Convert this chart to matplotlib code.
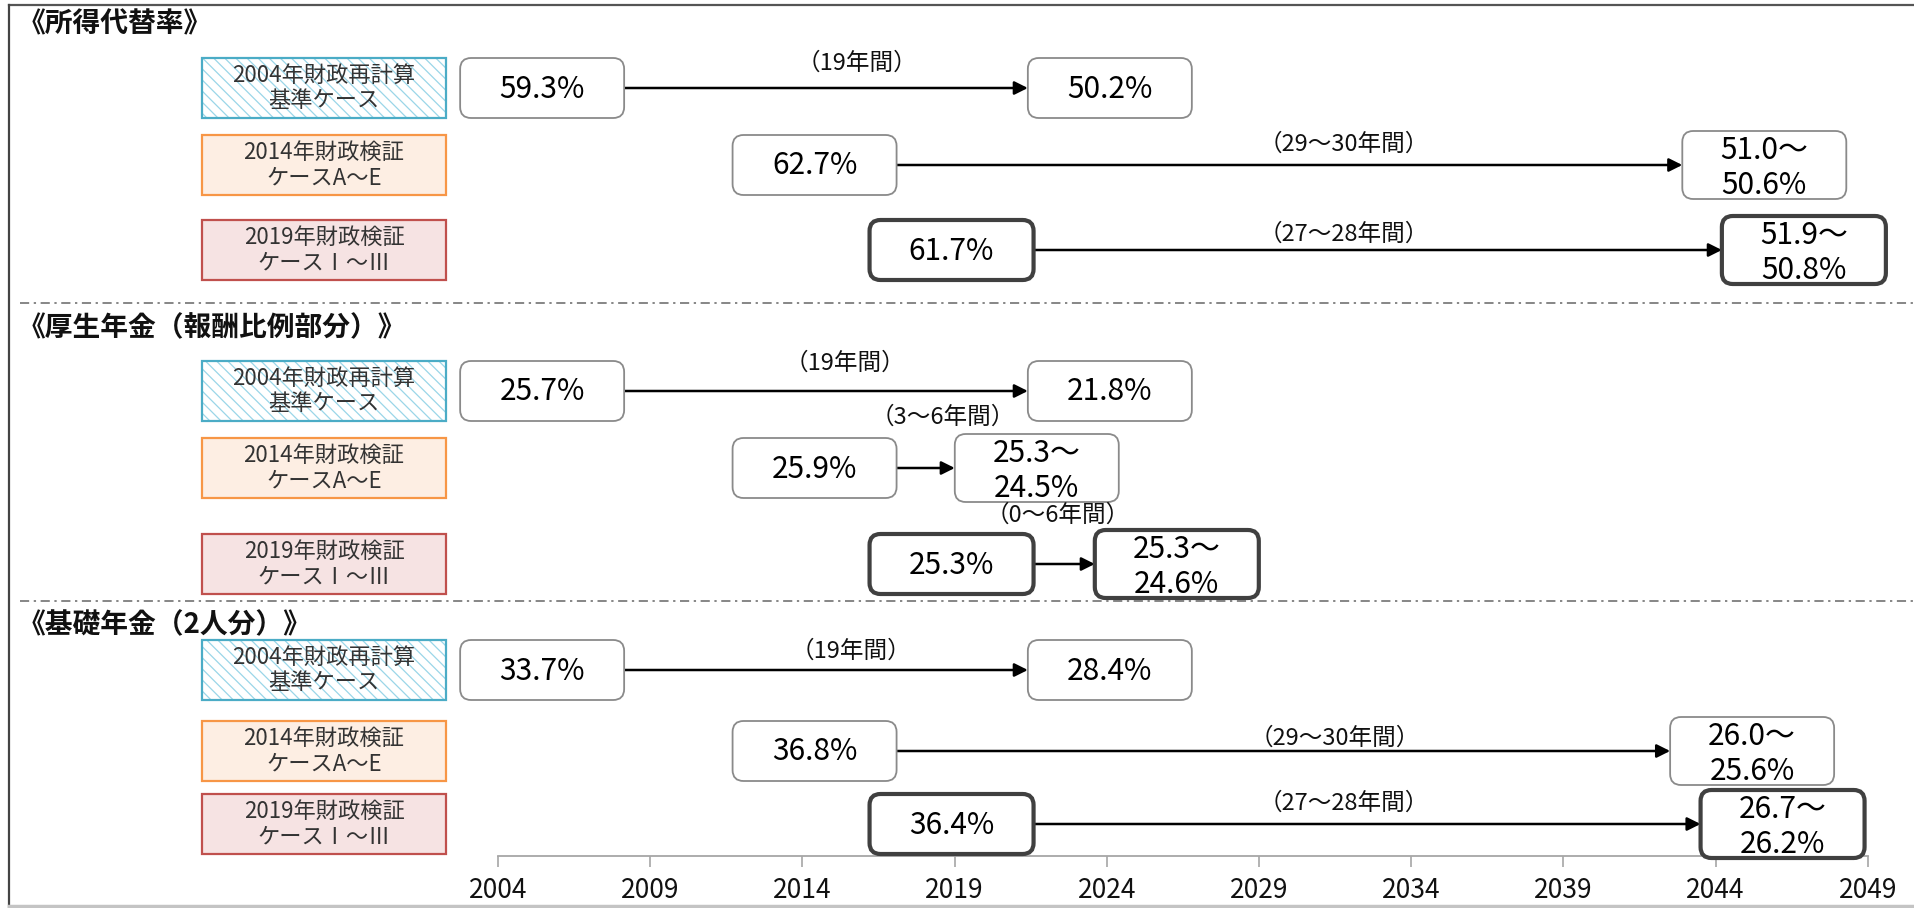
import matplotlib
matplotlib.use("Agg")
import matplotlib.pyplot as plt
from matplotlib.patches import FancyBboxPatch, Rectangle

plt.rcParams['font.family'] = ['Noto Sans CJK JP', 'DejaVu Sans']
plt.rcParams['hatch.linewidth'] = 0.9

# ---- data ----
section_titles = ['《所得代替率》', '《厚生年金（報酬比例部分）》', '《基礎年金（2人分）》']
case_labels = ['2004年財政再計算\n基準ケース', '2014年財政検証\nケースA～E', '2019年財政検証\nケースⅠ～Ⅲ']

# centre year of the starting box for each case
start_year = [2005.45, 2014.4, 2018.9]

ratio_start = ['59.3%', '62.7%', '61.7%']
ratio_end = ['50.2%', '51.0～\n50.6%', '51.9～\n50.8%']
ratio_period = ['（19年間）', '（29～30年間）', '（27～28年間）']
ratio_end_year = [2024.1, 2045.6, 2046.9]
ratio_period_x = [2015.8, 2031.8, 2031.8]

kosei_start = ['25.7%', '25.9%', '25.3%']
kosei_end = ['21.8%', '25.3～\n24.5%', '25.3～\n24.6%']
kosei_period = ['（19年間）', '（3～6年間）', '（0～6年間）']
kosei_end_year = [2024.1, 2021.7, 2026.3]
kosei_period_x = [2015.4, 2018.6, 2022.4]

kiso_start = ['33.7%', '36.8%', '36.4%']
kiso_end = ['28.4%', '26.0～\n25.6%', '26.7～\n26.2%']
kiso_period = ['（19年間）', '（29～30年間）', '（27～28年間）']
kiso_end_year = [2024.1, 2045.2, 2046.2]
kiso_period_x = [2015.6, 2031.5, 2031.8]

year_ticks = list(range(2004, 2050, 5))

sections = [
    (ratio_start, ratio_end, ratio_period, ratio_end_year, ratio_period_x),
    (kosei_start, kosei_end, kosei_period, kosei_end_year, kosei_period_x),
    (kiso_start, kiso_end, kiso_period, kiso_end_year, kiso_period_x),
]

# ---- layout (pixels of the 1914x908 canvas) ----
PX0, PPY = 498.0, 30.44   # pixel of 2004, pixels per year


def px2yr(p):
    return 2004 + (p - PX0) / PPY


TITLE_Y = [24, 328, 625]
ROW_Y = [[88, 165, 250], [391, 468, 564], [670, 751, 824]]
LABEL_DY = [[25, 21, 16], [28, 51, 49], [19, 13, 21]]
SEP_Y = [303, 601]
AXIS_Y = 856
BOX_W = 164 / PPY

label_styles = [
    dict(face='white', hatch='\\\\\\', hatchcol='#9ad6e8', edge='#4bacc6'),
    dict(face='#fdeee3', hatch=None, hatchcol=None, edge='#f79646'),
    dict(face='#f6e3e3', hatch=None, hatchcol=None, edge='#c0504d'),
]

fig = plt.figure(figsize=(19.14, 9.08), dpi=100)
ax = fig.add_axes([0, 0, 1, 1])
ax.set_xlim(px2yr(0), px2yr(1914))
ax.set_ylim(908, 0)
ax.patch.set_visible(False)


def value_box(xc, yc, text, thick):
    two = '\n' in text
    h = 68 if two else 60
    box = FancyBboxPatch((xc - BOX_W / 2, yc - h / 2), BOX_W, h,
                         boxstyle='round,pad=0,rounding_size=0.36',
                         mutation_aspect=PPY, facecolor='white',
                         edgecolor='#404040' if thick else '#8a8a8a',
                         linewidth=3.0 if thick else 1.3, zorder=3)
    ax.add_patch(box)
    ax.text(xc, yc + (3 if two else 1), text, ha='center', va='center',
            fontsize=21.5, linespacing=1.18, color='#000000', zorder=4)


for s, (starts, ends, periods, end_x, period_x) in enumerate(sections):
    ax.text(px2yr(18), TITLE_Y[s], section_titles[s], fontsize=20,
            fontweight='bold', ha='left', va='center', color='#111111')
    for r in range(3):
        y = ROW_Y[s][r]
        st = label_styles[r]
        lx, lw_ = px2yr(202), (446 - 202) / PPY
        ax.add_patch(Rectangle((lx, y - 30), lw_, 60, facecolor=st['face'],
                               edgecolor='none', zorder=2))
        if st['hatch']:
            ax.add_patch(Rectangle((lx, y - 30), lw_, 60, facecolor='none',
                                   hatch=st['hatch'], edgecolor=st['hatchcol'],
                                   linewidth=0, zorder=2))
        ax.add_patch(Rectangle((lx, y - 30), lw_, 60, facecolor='none',
                               edgecolor=st['edge'], linewidth=1.6, zorder=2))
        ax.text(lx + lw_ / 2, y, case_labels[r], ha='center', va='center',
                fontsize=16, linespacing=1.15, color='#333333', zorder=3)

        thick = r == 2
        value_box(start_year[r], y, starts[r], thick)
        value_box(end_x[r], y, ends[r], thick)
        ax.annotate('', xy=(end_x[r] - BOX_W / 2, y),
                    xytext=(start_year[r] + BOX_W / 2, y),
                    arrowprops=dict(arrowstyle='-|>', color='black', lw=1.8,
                                    mutation_scale=20, shrinkA=0, shrinkB=0),
                    zorder=2)
        ax.text(period_x[r], y - LABEL_DY[s][r], periods[r], ha='center',
                va='center', fontsize=17, color='#111111', zorder=5)

# section separators
for sy in SEP_Y:
    ax.plot([px2yr(20), px2yr(1914)], [sy, sy], color='#666666', lw=1.1,
            linestyle=(0, (6, 3, 1.5, 3)), zorder=1)

# outer frame
ax.plot([px2yr(9), px2yr(1914)], [5, 5], color='#555555', lw=1.6)
ax.plot([px2yr(9), px2yr(9)], [5, 908], color='#444444', lw=1.6)
ax.plot([px2yr(9), px2yr(1914)], [906, 906], color='#c4c4c4', lw=2.5)

# year axis
for side in ['top', 'left', 'right']:
    ax.spines[side].set_visible(False)
ax.spines['bottom'].set_position(('data', AXIS_Y))
ax.spines['bottom'].set_bounds(2004, 2049)
ax.spines['bottom'].set_color('#a6a6a6')
ax.spines['bottom'].set_linewidth(1.3)
ax.set_xticks(year_ticks)
ax.set_xticklabels([str(t) for t in year_ticks])
ax.set_yticks([])
ax.tick_params(axis='x', direction='out', length=8, width=1.2,
               color='#a6a6a6', labelsize=19, labelcolor='#111111', pad=7)

fig.savefig('out.png', dpi=100)
